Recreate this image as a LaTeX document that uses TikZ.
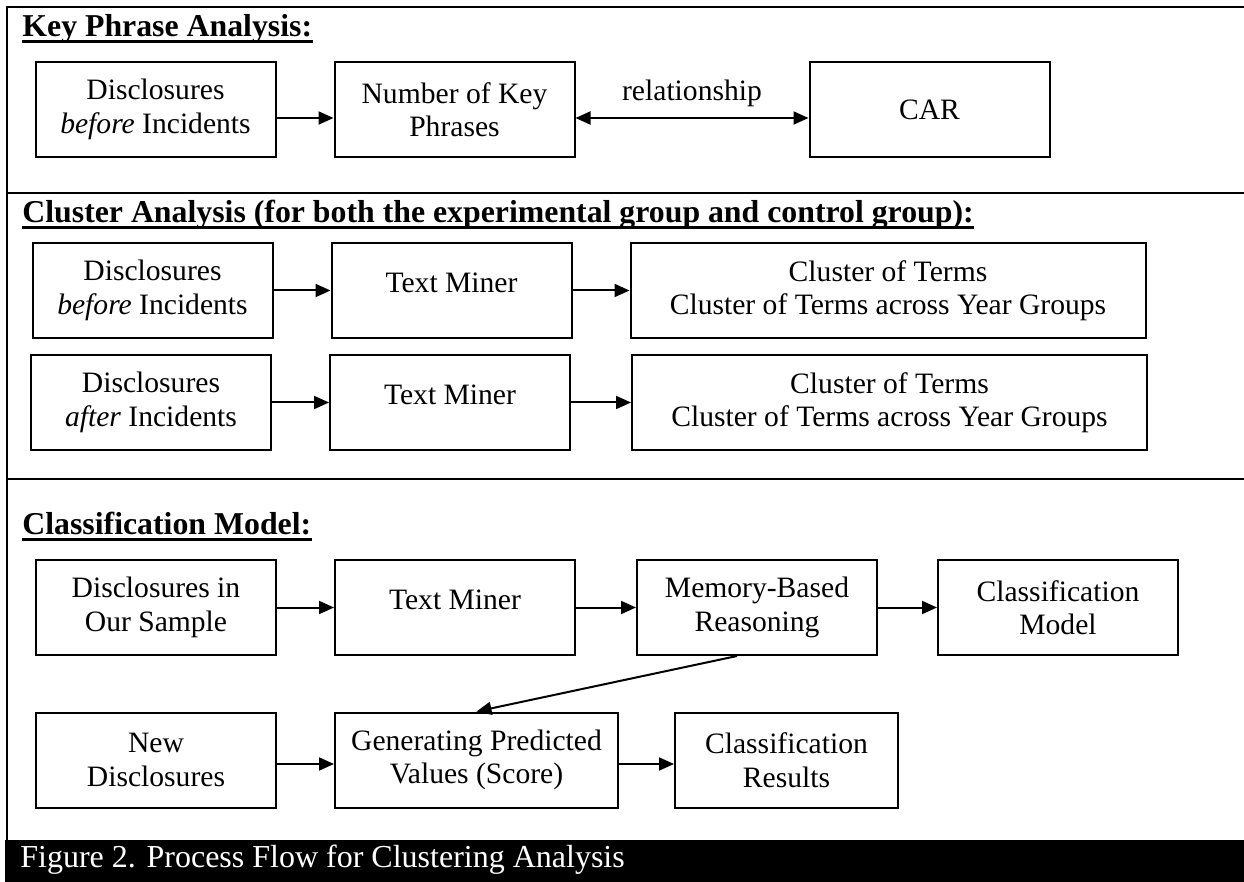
\documentclass[tikz,border=0pt]{standalone}
\usepackage{fontspec}
\setmainfont{Liberation Serif}
\usetikzlibrary{arrows.meta,positioning}

\begin{document}
\begin{tikzpicture}[x=0.5pt,y=-0.5pt,node distance=28.5pt,
		>={Triangle[length=7.5pt,width=6.5pt]}]
		\tikzstyle{block} = [rectangle, draw, line width=1pt, align=center, minimum width=120pt, minimum height=47.5pt, inner sep=2pt, font=\fontsize{14.8}{16.75}\selectfont]
		\tikzstyle{upper} = [text height=10pt, text depth=8pt]
		\tikzstyle{header} = [inner sep=0pt, anchor=base west, font=\fontsize{15.9}{18}\selectfont\bfseries]
		\tikzstyle{uline} = [draw, line width=1.5pt]
		\tikzstyle{frame} = [draw, line width=1.2pt]
		\tikzstyle{arrow} = [draw, line width=1pt, ->]
		\useasboundingbox (0,0) rectangle (1244,882);
		\fill[white] (0,0) rectangle (1244,882);

		% frame and section rules
		\path[frame] (7,840) -- (7,7) -- (1244,7);
		\path[frame] (7,193) -- (1244,193);
		\path[frame] (7,479) -- (1244,479);

		% key phrase analysis
		\node [header] (kphead) at (22,37) {Key Phrase Analysis:};
		\path[uline] ([yshift=-2.25pt]kphead.base west) -- ([yshift=-2.25pt]kphead.base east);
		\node [block] (kpdisc) at (155.5,109.5) {Disclosures\\\textit{before} Incidents};
		\node [block, right=of kpdisc] (kpnum) {Number of Key\\Phrases};
		\node [block, right=116.5pt of kpnum] (kpcar) {CAR};

		\path ([yshift=-4.25pt]kpdisc.east) edge[arrow] ([yshift=-4.25pt]kpnum.west);
		\path ([yshift=-4.25pt]kpnum.east) edge[arrow, <->] node[above=5pt, inner sep=0pt, font=\fontsize{14.8}{16.75}\selectfont] {relationship} ([yshift=-4.25pt]kpcar.west);

		% cluster analysis
		\node [header] (cahead) at (22,223) {Cluster Analysis (for both the experimental group and control group):};
		\path[uline] ([yshift=-2.25pt]cahead.base west) -- ([yshift=-2.25pt]cahead.base east);
		\node [block] (cadisca) at (152.5,290.5) {Disclosures\\\textit{before} Incidents};
		\node [block, upper, right=of cadisca] (catma) {Text Miner};
		\node [block, minimum width=257.5pt, right=of catma] (caterma) {Cluster of Terms\\Cluster of Terms across Year Groups};
		\node [block] (cadiscb) at (151,402.5) {Disclosures\\\textit{after} Incidents};
		\node [block, upper, right=of cadiscb] (catmb) {Text Miner};
		\node [block, minimum width=257.5pt, right=30pt of catmb] (catermb) {Cluster of Terms\\Cluster of Terms across Year Groups};

		\path (cadisca) edge[arrow] (catma);
		\path (catma) edge[arrow] (caterma);
		\path (cadiscb) edge[arrow] (catmb);
		\path (catmb) edge[arrow] (catermb);

		% classification model
		\node [header] (cmhead) at (22,535) {Classification Model:};
		\path[uline] ([yshift=-2.25pt]cmhead.base west) -- ([yshift=-2.25pt]cmhead.base east);
		\node [block] (cmdisc) at (156,607.5) {Disclosures in\\Our Sample};
		\node [block, upper, right=of cmdisc] (cmtm) {Text Miner};
		\node [block, right=30pt of cmtm] (cmmbr) {Memory-Based\\Reasoning};
		\node [block, right=29.5pt of cmmbr] (cmmodel) {Classification\\Model};
		\node [block] (cmnew) at (156,760) {New\\Disclosures};
		\node [block, minimum width=141.5pt, right=of cmnew] (cmgen) {Generating Predicted\\Values (Score)};
		\node [block, minimum width=111.5pt, right=27.5pt of cmgen] (cmres) {Classification\\Results};

		\path (cmdisc) edge[arrow] (cmtm);
		\path (cmtm) edge[arrow] (cmmbr);
		\path (cmmbr) edge[arrow] (cmmodel);
		\path ([xshift=-10pt]cmmbr.south) edge[arrow] (cmgen.north);
		\path ([yshift=-2pt]cmnew.east) edge[arrow] ([yshift=-2pt]cmgen.west);
		\path ([yshift=-2pt]cmgen.east) edge[arrow] ([yshift=-2pt]cmres.west);

		% caption band
		\fill[black] (5,840) rectangle (1244,882);
		\node [anchor=base west, inner sep=0pt, text=white, font=\fontsize{16}{18}\selectfont] (caption) at (20,867) {Figure 2. Process Flow for Clustering Analysis};
	\end{tikzpicture}
\end{document}
